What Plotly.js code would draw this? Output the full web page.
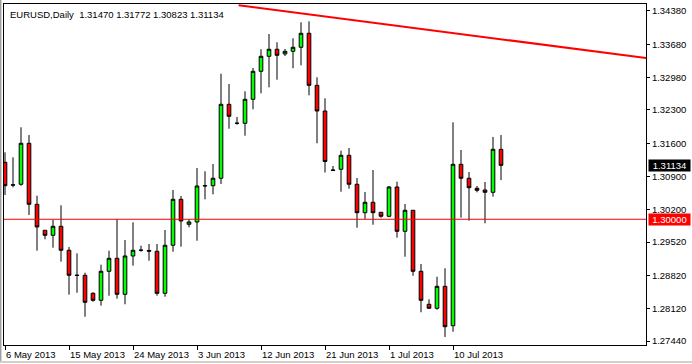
<!DOCTYPE html>
<html>
<head>
<meta charset="utf-8">
<script src="https://cdn.plot.ly/plotly-3.0.1.min.js"></script>
<style>html,body{margin:0;padding:0;background:#fff;}#chart{width:692px;height:364px;}</style>
</head>
<body>
<div id="chart"></div>
<script>
const symbolName = "EURUSD,Daily";
const dates = ["2013-05-06","2013-05-07","2013-05-08","2013-05-09","2013-05-10","2013-05-12","2013-05-13","2013-05-14","2013-05-15","2013-05-16","2013-05-17","2013-05-19","2013-05-20","2013-05-21","2013-05-22","2013-05-23","2013-05-24","2013-05-26","2013-05-27","2013-05-28","2013-05-29","2013-05-30","2013-05-31","2013-06-02","2013-06-03","2013-06-04","2013-06-05","2013-06-06","2013-06-07","2013-06-09","2013-06-10","2013-06-11","2013-06-12","2013-06-13","2013-06-14","2013-06-16","2013-06-17","2013-06-18","2013-06-19","2013-06-20","2013-06-21","2013-06-23","2013-06-24","2013-06-25","2013-06-26","2013-06-27","2013-06-28","2013-06-30","2013-07-01","2013-07-02","2013-07-03","2013-07-04","2013-07-05","2013-07-07","2013-07-08","2013-07-09","2013-07-10","2013-07-11","2013-07-12","2013-07-14","2013-07-15","2013-07-16","2013-07-17"];
const openP  = [1.31198,1.30718,1.30736,1.31598,1.30315,1.29768,1.29663,1.29852,1.29348,1.28825,1.28822,1.28443,1.28296,1.28906,1.29179,1.28422,1.29228,1.29348,1.29345,1.29327,1.28443,1.29453,1.30420,1.29894,1.29943,1.30700,1.30706,1.30862,1.32418,1.32018,1.32018,1.32523,1.33112,1.33427,1.33575,1.33476,1.33532,1.33617,1.33911,1.32817,1.32277,1.31036,1.31051,1.31345,1.30736,1.30138,1.30357,1.30147,1.30063,1.30679,1.29747,1.30189,1.28906,1.28212,1.28128,1.28590,1.27762,1.31156,1.30862,1.30651,1.30616,1.30567,1.31470];
const highP  = [1.31408,1.31303,1.31934,1.31772,1.30496,1.29768,1.29985,1.30294,1.29417,1.29284,1.28876,1.28464,1.29045,1.29339,1.30006,1.29564,1.29936,1.29444,1.29480,1.29480,1.29774,1.30616,1.30489,1.29999,1.31078,1.31009,1.31162,1.33061,1.32845,1.32151,1.32691,1.33181,1.33575,1.33896,1.33722,1.33581,1.33806,1.34142,1.34163,1.32986,1.32544,1.31120,1.31442,1.31499,1.30868,1.30574,1.31036,1.30147,1.30700,1.30790,1.30321,1.30189,1.29059,1.28317,1.28792,1.28969,1.32039,1.31457,1.30994,1.30700,1.30784,1.31730,1.31772];
const lowP   = [1.30510,1.30672,1.30706,1.30090,1.29339,1.29579,1.29402,1.29108,1.28414,1.28456,1.27951,1.28267,1.28183,1.28393,1.28330,1.28212,1.29024,1.29318,1.29129,1.28393,1.28372,1.29318,1.29423,1.29831,1.29549,1.30420,1.30525,1.30742,1.31905,1.31989,1.31758,1.32313,1.32649,1.32775,1.32935,1.33434,1.33175,1.33238,1.32607,1.31598,1.30984,1.31022,1.30580,1.30643,1.29823,1.30006,1.29886,1.30033,1.30042,1.29613,1.29213,1.28813,1.28044,1.28128,1.28098,1.27524,1.27636,1.30033,1.29970,1.30567,1.29915,1.30475,1.30823];
const closeP = [1.30706,1.30724,1.31598,1.30315,1.29838,1.29663,1.29852,1.29348,1.28822,1.28820,1.28254,1.28296,1.28906,1.29179,1.28422,1.29228,1.29348,1.29350,1.29330,1.28443,1.29453,1.30420,1.29964,1.29943,1.30700,1.30706,1.30862,1.32418,1.32166,1.32020,1.32523,1.33112,1.33427,1.33575,1.33448,1.33532,1.33617,1.33911,1.32817,1.32277,1.31215,1.31030,1.31345,1.30736,1.30138,1.30357,1.30138,1.30063,1.30679,1.29747,1.30189,1.28906,1.28296,1.28128,1.28590,1.27741,1.31156,1.30862,1.30664,1.30609,1.30567,1.31472,1.31134];

const tickIdx = [0, 8, 16, 24, 32, 40, 48, 56];
const tickLabels = ["6 May 2013","15 May 2013","24 May 2013","3 Jun 2013","12 Jun 2013","21 Jun 2013","1 Jul 2013","10 Jul 2013"];
const priceTicks = [1.34380,1.33680,1.32980,1.32300,1.31600,1.30900,1.30200,1.29520,1.28820,1.28120,1.27440];
const trendX = [29.2, 80.2];
const trendY = [1.34502, 1.33389];
const hlineLevel = [1.30000];

const xIdx = dates.map((d, i) => i);
const n = dates.length;
const FONT = "Liberation Sans, Arial, sans-serif";
const FS = 9.5;

const traces = [
  {
    type: 'candlestick', x: xIdx, open: openP, high: highP, low: lowP, close: closeP,
    increasing: {line: {color: '#000000', width: 1}, fillcolor: '#00ff00'},
    decreasing: {line: {color: '#000000', width: 1}, fillcolor: '#ff0000'},
    whiskerwidth: 0, showlegend: false, hoverinfo: 'skip'
  },
  {
    type: 'scatter', mode: 'lines', x: trendX, y: trendY,
    line: {color: '#ff0000', width: 2}, showlegend: false, hoverinfo: 'skip'
  }
];

const lastO = openP[n-1], lastH = highP[n-1], lastL = lowP[n-1], lastC = closeP[n-1];

const annotations = [
  {xref: 'paper', yref: 'paper', x: 0, y: 1, xanchor: 'left', yanchor: 'top', xshift: 4, yshift: -3,
   text: symbolName + '\u00a0\u00a0' + [lastO, lastH, lastL, lastC].map(v => v.toFixed(5)).join(' '),
   showarrow: false, font: {family: FONT, size: FS, color: '#000000'}},
  {xref: 'paper', yref: 'y', x: 1, y: lastC, xanchor: 'left', yanchor: 'middle', xshift: 2,
   text: lastC.toFixed(5), showarrow: false, bgcolor: '#000000', width: 39, height: 9, borderpad: 1,
   font: {family: FONT, size: FS, color: '#ffffff'}},
  {xref: 'paper', yref: 'y', x: 1, y: hlineLevel[0], xanchor: 'left', yanchor: 'middle', xshift: 2,
   text: hlineLevel[0].toFixed(5), showarrow: false, bgcolor: '#ff0000', width: 39, height: 9, borderpad: 1,
   font: {family: FONT, size: FS, color: '#ffffff'}}
];
tickIdx.forEach((ix, k) => {
  annotations.push({xref: 'x', yref: 'paper', x: ix, y: 0, xanchor: 'left', yanchor: 'top',
    xshift: -1, yshift: -2, text: tickLabels[k], showarrow: false,
    font: {family: FONT, size: FS, color: '#000000'}});
});

const layout = {
  width: 692, height: 364,
  margin: {l: 4, r: 46, t: 4, b: 19, pad: 0},
  paper_bgcolor: '#ffffff', plot_bgcolor: '#ffffff',
  showlegend: false,
  boxgap: 0.35,
  font: {family: FONT, size: FS, color: '#000000'},
  xaxis: {
    range: [-0.125, 80.125], rangeslider: {visible: false},
    showgrid: false, zeroline: false,
    showline: true, mirror: true, linecolor: '#000000', linewidth: 1,
    ticks: 'outside', ticklen: 4, tickcolor: '#000000', tickwidth: 1,
    tickvals: tickIdx, showticklabels: false
  },
  yaxis: {
    side: 'right', range: [1.27356, 1.34527],
    showgrid: false, zeroline: false,
    showline: true, mirror: true, linecolor: '#000000', linewidth: 1,
    ticks: 'outside', ticklen: 3, tickcolor: '#000000', tickwidth: 1,
    tickvals: priceTicks, ticktext: priceTicks.map(v => v.toFixed(5)),
    tickfont: {family: FONT, size: FS, color: '#000000'}
  },
  shapes: [
    {type: 'line', xref: 'paper', yref: 'y', x0: 0, x1: 1, y0: hlineLevel[0], y1: hlineLevel[0],
     line: {color: '#ff0000', width: 1}},
    {type: 'line', xref: 'paper', yref: 'paper', x0: -0.0055, x1: -0.0055, y0: -0.05, y1: 1.012,
     line: {color: '#a0a0a0', width: 2}},
    {type: 'line', xref: 'paper', yref: 'paper', x0: -0.0062, x1: 1.08, y0: -0.0499, y1: -0.0499,
     line: {color: '#d4d0c8', width: 2}}
  ],
  annotations: annotations
};

Plotly.newPlot('chart', traces, layout, {staticPlot: true, displayModeBar: false});
</script>
</body>
</html>
